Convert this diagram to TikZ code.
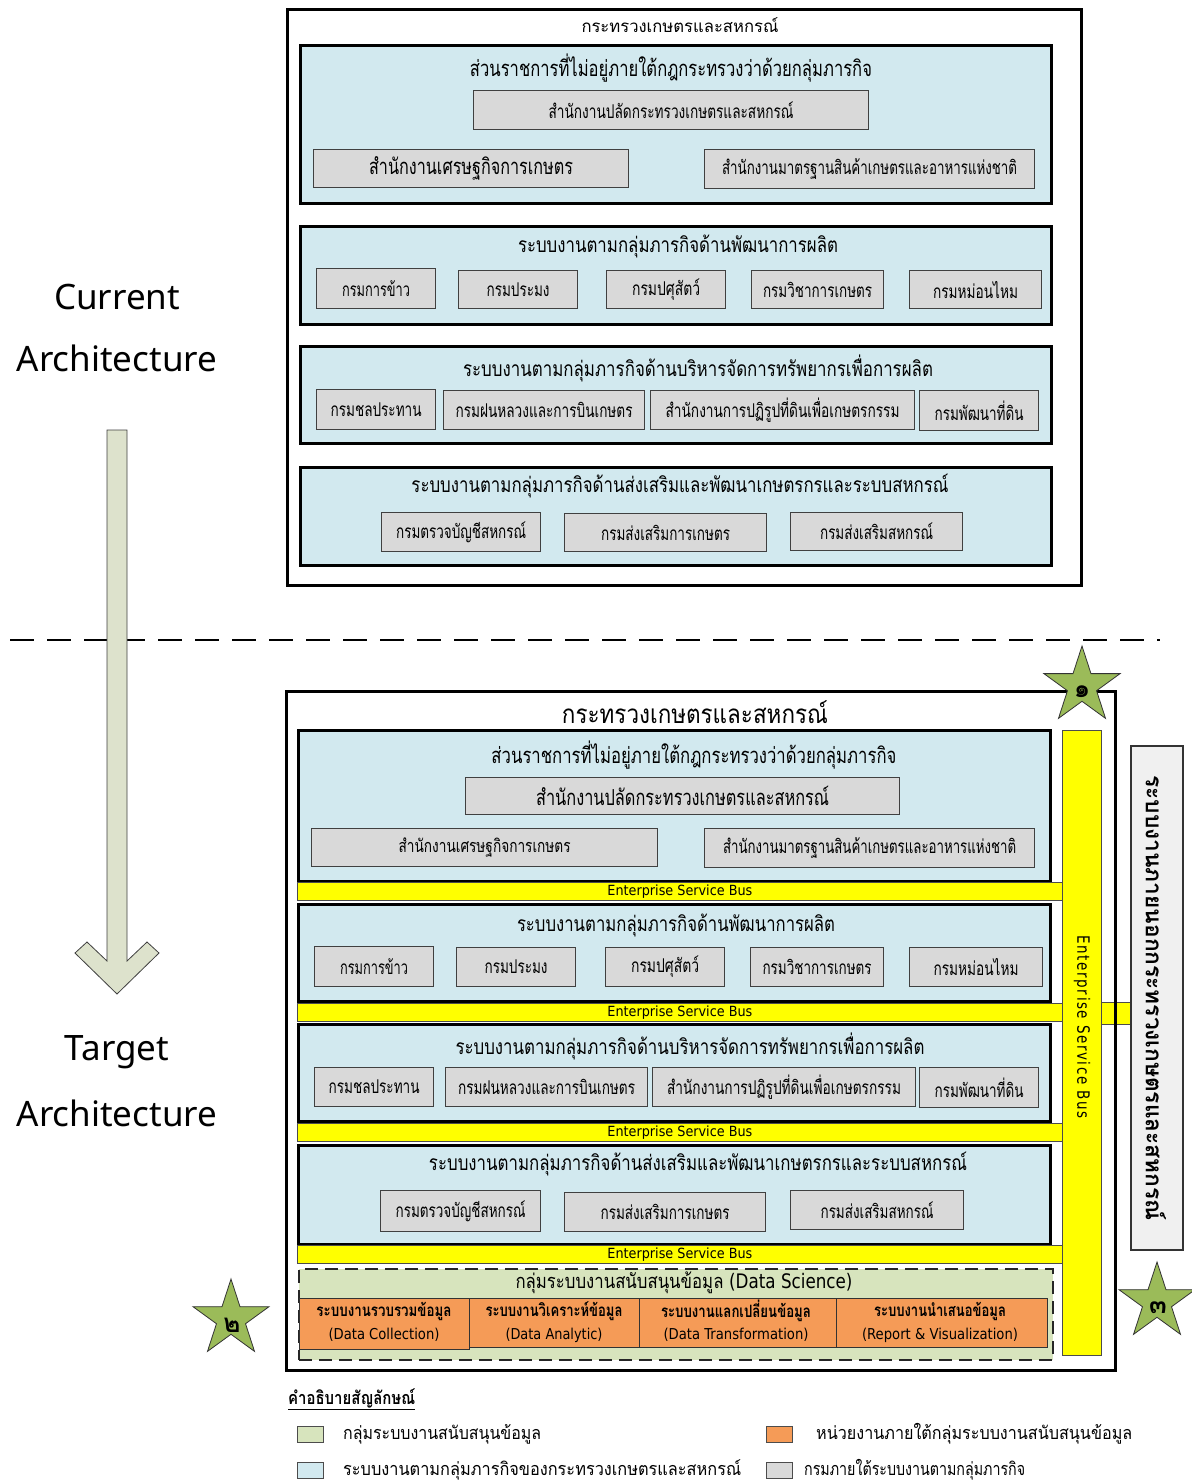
\documentclass[tikz,border=0pt]{standalone}
\usepackage{fontspec}
\usepackage{graphicx}
\usetikzlibrary{shapes.geometric}
\setmainfont{Noto Sans}
\newfontfamily\thfont[Script=Thai]{Loma}
\newfontfamily\lafont{DejaVu Sans}
\newfontfamily\laspaced[LetterSpace=12]{DejaVu Sans}
\newcommand\tx[3]{\fontsize{#2}{#2}\selectfont\resizebox{#1pt}{\height}{#3}}
\newcommand\bx[7]{\pgfmathsetmacro\bw{#5-#3}\pgfmathsetmacro\bh{#6-#4}\node[#1,minimum width=\bw pt,minimum height=\bh pt,anchor=north west,inner sep=0pt] (#2) at (#3,#4) {#7};}
\definecolor{cblue}{HTML}{D2E9EF}
\definecolor{cgray}{HTML}{D9D9D9}
\definecolor{cgreen}{HTML}{D7E4BD}
\definecolor{corange}{HTML}{F59B57}
\definecolor{cyel}{HTML}{FFFF00}
\definecolor{cext}{HTML}{F0F0F0}
\definecolor{cstar}{HTML}{9BBB59}
\definecolor{carrow}{HTML}{DDE2CC}
\tikzset{
  outerbox/.style={draw=black,line width=2.6pt},
  bluebox/.style={draw=black,line width=3pt,fill=cblue},
  graybox/.style={draw=black!75,line width=1.2pt,fill=cgray},
  yelbar/.style={draw=black!70,line width=0.8pt,fill=cyel},
  orgbox/.style={draw=black!80,line width=0.8pt,fill=corange},
  greenbox/.style={draw=black!85,line width=2pt,dash pattern=on 13pt off 7pt,fill=cgreen},
  extbox/.style={draw=black!80,line width=1.5pt,fill=cext},
  starshape/.style={star,star points=5,star point ratio=2.618,minimum size=80pt,inner sep=0pt,fill=cstar,draw=black!80,line width=0.8pt},
  starlbl/.style={inner sep=0pt,font=\fontsize{26}{26}\selectfont\thfont\bfseries},
  swatch/.style={draw=black!70,line width=1pt},
}
\begin{document}
\begin{tikzpicture}[x=1pt,y=-1pt]
\useasboundingbox[fill=white] (0,0) rectangle (1192,1484);

% ================= CURRENT =================
\bx{outerbox}{cur}{286}{8}{1080}{584}{}
\node (curt) at (680,25) {\tx{197}{17}{\thfont กระทรวงเกษตรและสหกรณ์}};

\bx{bluebox}{cA}{299}{44}{1050}{202}{}
\node (cAt) at (671,68) {\tx{402}{22}{\thfont ส่วนราชการที่ไม่อยู่ภายใต้กฎกระทรวงว่าด้วยกลุ่มภารกิจ}};
\bx{graybox}{cA1}{473}{90}{868}{129}{\tx{245}{19}{\thfont สำนักงานปลัดกระทรวงเกษตรและสหกรณ์}}
\bx{graybox}{cA2}{313}{149}{628}{187}{\tx{204}{22}{\thfont สำนักงานเศรษฐกิจการเกษตร}}
\bx{graybox}{cA3}{704}{149}{1034}{188}{\tx{295}{19}{\thfont สำนักงานมาตรฐานสินค้าเกษตรและอาหารแห่งชาติ}}

\bx{bluebox}{cB}{299}{225}{1050}{323}{}
\node (cBt) at (678,246) {\tx{320}{21}{\thfont ระบบงานตามกลุ่มภารกิจด้านพัฒนาการผลิต}};
\bx{graybox}{cB1}{316}{268}{435}{308}{\tx{68}{19}{\thfont กรมการข้าว}}
\bx{graybox}{cB2}{458}{270}{577}{308}{\tx{63}{19}{\thfont กรมประมง}}
\bx{graybox}{cB3}{606}{270}{725}{308}{\tx{68}{19}{\thfont กรมปศุสัตว์}}
\bx{graybox}{cB4}{751}{270}{883}{308}{\tx{109}{19}{\thfont กรมวิชาการเกษตร}}
\bx{graybox}{cB5}{909}{270}{1041}{308}{\tx{85}{19}{\thfont กรมหม่อนไหม}}

\bx{bluebox}{cC}{299}{345}{1050}{442}{}
\node (cCt) at (698,368) {\tx{470}{21}{\thfont ระบบงานตามกลุ่มภารกิจด้านบริหารจัดการทรัพยากรเพื่อการผลิต}};
\bx{graybox}{cC1}{316}{389}{435}{429}{\tx{91}{19}{\thfont กรมชลประทาน}}
\bx{graybox}{cC2}{443}{390}{644}{429}{\tx{177}{19}{\thfont กรมฝนหลวงและการบินเกษตร}}
\bx{graybox}{cC3}{650}{390}{914}{429}{\tx{234}{19}{\thfont สำนักงานการปฏิรูปที่ดินเพื่อเกษตรกรรม}}
\bx{graybox}{cC4}{919}{390}{1038}{430}{\tx{89}{19}{\thfont กรมพัฒนาที่ดิน}}

\bx{bluebox}{cD}{299}{466}{1050}{564}{}
\node (cDt) at (680,486) {\tx{537}{21}{\thfont ระบบงานตามกลุ่มภารกิจด้านส่งเสริมและพัฒนาเกษตรกรและระบบสหกรณ์}};
\bx{graybox}{cD1}{381}{512}{540}{551}{\tx{130}{19}{\thfont กรมตรวจบัญชีสหกรณ์}}
\bx{graybox}{cD2}{564}{513}{766}{551}{\tx{129}{19}{\thfont กรมส่งเสริมการเกษตร}}
\bx{graybox}{cD3}{790}{512}{962}{550}{\tx{113}{19}{\thfont กรมส่งเสริมสหกรณ์}}

% ================= SEPARATOR / ARROW =================
\coordinate (sepL) at (10,640);
\coordinate (sepR) at (1160,640);
\draw[line width=1.5pt,dash pattern=on 24pt off 13pt] (sepL) -- (sepR);
\draw[fill=carrow,draw=black!75,line width=0.8pt]
  (107,430) -- (107,961) -- (87,942) -- (75,953) -- (117,994) -- (159,953) -- (147,942) -- (127,961) -- (127,430) -- cycle;
\node (lc1) at (117,297) {\fontsize{35}{35}\selectfont Current};
\node (lc2) at (117,358) {\fontsize{35}{35}\selectfont Architecture};
\node (lt1) at (117,1052) {\fontsize{35}{35}\selectfont Target};
\node (lt2) at (117,1113) {\fontsize{35}{35}\selectfont Architecture};

% ================= TARGET =================
\bx{yelbar}{stub}{1101}{1002}{1130}{1024}{}
\bx{outerbox,line width=3pt}{tgt}{285}{690}{1114}{1369}{}
\node (tgtt) at (695,712) {\tx{266}{26}{\thfont กระทรวงเกษตรและสหกรณ์}};

\bx{bluebox}{tA}{297}{729}{1049}{880}{}
\node (tAt) at (694,755) {\tx{405}{22}{\thfont ส่วนราชการที่ไม่อยู่ภายใต้กฎกระทรวงว่าด้วยกลุ่มภารกิจ}};
\bx{graybox}{tA1}{465}{777}{899}{814}{\tx{293}{22}{\thfont สำนักงานปลัดกระทรวงเกษตรและสหกรณ์}}
\bx{graybox}{tA2}{311}{828}{657}{866}{\tx{172}{18}{\thfont สำนักงานเศรษฐกิจการเกษตร}}
\bx{graybox}{tA3}{704}{828}{1034}{867}{\tx{293}{19}{\thfont สำนักงานมาตรฐานสินค้าเกษตรและอาหารแห่งชาติ}}
\bx{yelbar}{bus1}{297}{882}{1062}{900}{\tx{145}{14}{\lafont Enterprise Service Bus}}

\bx{bluebox}{tB}{297}{903}{1049}{1000}{}
\node (tBt) at (676,925) {\tx{318}{21}{\thfont ระบบงานตามกลุ่มภารกิจด้านพัฒนาการผลิต}};
\bx{graybox}{tB1}{314}{946}{433}{986}{\tx{68}{19}{\thfont กรมการข้าว}}
\bx{graybox}{tB2}{456}{947}{575}{986}{\tx{63}{19}{\thfont กรมประมง}}
\bx{graybox}{tB3}{605}{947}{724}{986}{\tx{68}{19}{\thfont กรมปศุสัตว์}}
\bx{graybox}{tB4}{750}{947}{883}{986}{\tx{109}{19}{\thfont กรมวิชาการเกษตร}}
\bx{graybox}{tB5}{909}{947}{1042}{986}{\tx{85}{19}{\thfont กรมหม่อนไหม}}
\bx{yelbar}{bus2}{297}{1003}{1062}{1021}{\tx{145}{14}{\lafont Enterprise Service Bus}}

\bx{bluebox}{tC}{297}{1023}{1049}{1120}{}
\node (tCt) at (690,1046) {\tx{469}{21}{\thfont ระบบงานตามกลุ่มภารกิจด้านบริหารจัดการทรัพยากรเพื่อการผลิต}};
\bx{graybox}{tC1}{314}{1067}{433}{1106}{\tx{91}{19}{\thfont กรมชลประทาน}}
\bx{graybox}{tC2}{445}{1067}{647}{1106}{\tx{177}{19}{\thfont กรมฝนหลวงและการบินเกษตร}}
\bx{graybox}{tC3}{652}{1067}{915}{1106}{\tx{234}{19}{\thfont สำนักงานการปฏิรูปที่ดินเพื่อเกษตรกรรม}}
\bx{graybox}{tC4}{919}{1067}{1038}{1107}{\tx{89}{19}{\thfont กรมพัฒนาที่ดิน}}
\bx{yelbar}{bus3}{297}{1123}{1062}{1141}{\tx{145}{14}{\lafont Enterprise Service Bus}}

\bx{bluebox}{tD}{297}{1144}{1049}{1243}{}
\node (tDt) at (698,1164) {\tx{538}{21}{\thfont ระบบงานตามกลุ่มภารกิจด้านส่งเสริมและพัฒนาเกษตรกรและระบบสหกรณ์}};
\bx{graybox}{tD1}{380}{1190}{540}{1231}{\tx{130}{19}{\thfont กรมตรวจบัญชีสหกรณ์}}
\bx{graybox}{tD2}{564}{1192}{765}{1231}{\tx{129}{19}{\thfont กรมส่งเสริมการเกษตร}}
\bx{graybox}{tD3}{790}{1190}{963}{1229}{\tx{113}{19}{\thfont กรมส่งเสริมสหกรณ์}}
\bx{yelbar}{bus4}{297}{1245}{1062}{1263}{\tx{145}{14}{\lafont Enterprise Service Bus}}

\bx{greenbox}{ds}{298}{1268}{1052}{1359}{}
\node (dst) at (684,1283) {\tx{337}{20}{\thfont กลุ่มระบบงานสนับสนุนข้อมูล \lafont(Data Science)}};
\bx{orgbox}{o1}{299}{1298}{469}{1349}{}
\bx{orgbox}{o2}{469}{1298}{639}{1347}{}
\bx{orgbox}{o3}{639}{1298}{836}{1347}{}
\bx{orgbox}{o4}{836}{1298}{1047}{1347}{}
\node (o1a) at (384,1311) {\tx{135}{17}{\thfont\bfseries ระบบงานรวบรวมข้อมูล}};
\node (o1b) at (384,1335) {\tx{111}{15}{\lafont (Data Collection)}};
\node (o2a) at (554,1311) {\tx{137}{17}{\thfont\bfseries ระบบงานวิเคราะห์ข้อมูล}};
\node (o2b) at (554,1335) {\tx{97}{15}{\lafont (Data Analytic)}};
\node (o3a) at (736,1311) {\tx{150}{17}{\thfont\bfseries ระบบงานแลกเปลี่ยนข้อมูล}};
\node (o3b) at (736,1335) {\tx{145}{15}{\lafont (Data Transformation)}};
\node (o4a) at (940,1311) {\tx{132}{17}{\thfont\bfseries ระบบงานนำเสนอข้อมูล}};
\node (o4b) at (940,1335) {\tx{156}{15}{\lafont (Report \& Visualization)}};

\bx{yelbar}{busv}{1062}{730}{1101}{1355}{}
\node[rotate=-90] (busvt) at (1082,1027) {\tx{183}{17}{\laspaced Enterprise Service Bus}};

\bx{extbox}{ext}{1130}{745}{1182}{1249}{}
\node[rotate=-90] (extt) at (1156,998) {\tx{445}{23}{\thfont\bfseries ระบบงานภายนอกกระทรวงเกษตรและสหกรณ์}};

% stars
\node[starshape] (s1) at (1082,686) {};
\node[starlbl] (s1t) at (1082,692) {๑};
\node[starshape] (s2) at (231,1319) {};
\node[starlbl] (s2t) at (232,1325) {๒};
\node[starshape] (s3) at (1157,1302) {};
\node[starlbl] (s3t) at (1158,1308) {๓};

% ================= LEGEND =================
\node[anchor=west,inner sep=0pt] (lgh) at (288,1399) {\tx{127}{18}{\underline{\thfont\bfseries คำอธิบายสัญลักษณ์}}};
\bx{swatch,fill=cgreen}{lg1}{297}{1426}{323}{1442}{}
\node[anchor=west,inner sep=0pt] (lg1t) at (343,1434) {\tx{198}{18}{\thfont กลุ่มระบบงานสนับสนุนข้อมูล}};
\bx{swatch,fill=corange}{lg2}{766}{1426}{792}{1442}{}
\node[anchor=west,inner sep=0pt] (lg2t) at (816,1434) {\tx{316}{18}{\thfont หน่วยงานภายใต้กลุ่มระบบงานสนับสนุนข้อมูล}};
\bx{swatch,fill=cblue}{lg3}{297}{1462}{323}{1478}{}
\node[anchor=west,inner sep=0pt] (lg3t) at (343,1470) {\tx{398}{18}{\thfont ระบบงานตามกลุ่มภารกิจของกระทรวงเกษตรและสหกรณ์}};
\bx{swatch,fill=cgray}{lg4}{766}{1462}{792}{1478}{}
\node[anchor=west,inner sep=0pt] (lg4t) at (804,1470) {\tx{221}{18}{\thfont กรมภายใต้ระบบงานตามกลุ่มภารกิจ}};
\end{tikzpicture}
\end{document}
